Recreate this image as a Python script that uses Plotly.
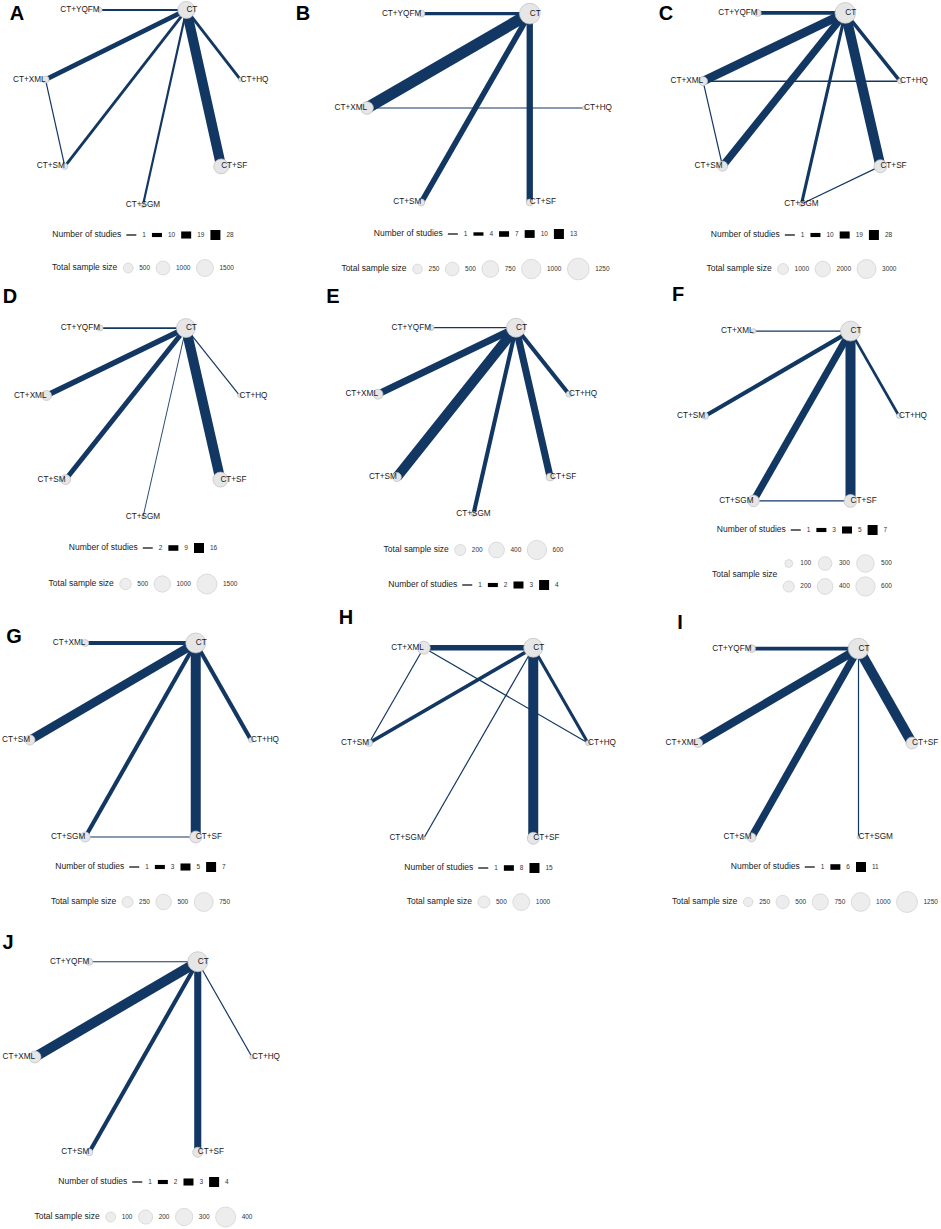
import math
import numpy as np
import plotly.graph_objects as go

W, H = 941, 1229
FONT = "Liberation Sans, Arial, sans-serif"
EDGE_COLOR = "#133763"
NODE_FILL = "#e6e6e6"
NODE_LINE = "#bdbdbd"

# treatments go round the circle counter-clockwise in this order, CT first
ORDER = ["CT", "CT+YQFM", "CT+XML", "CT+SM", "CT+SGM", "CT+SF", "CT+HQ"]

# ---- A ----
a_nodes = ["CT", "CT+YQFM", "CT+XML", "CT+SM", "CT+SGM", "CT+SF", "CT+HQ"]
a_sample = [1520, 130, 260, 190, 130, 1160, 80]
a_pairs = [("CT", "CT+YQFM"), ("CT", "CT+XML"), ("CT", "CT+SM"), ("CT", "CT+SGM"),
           ("CT", "CT+SF"), ("CT", "CT+HQ"), ("CT+XML", "CT+SM")]
a_studies = [3, 12, 6, 4, 28, 6, 1]
a_study_breaks = [1, 10, 19, 28]
a_size_breaks = [500, 1000, 1500]

# ---- B ----
b_nodes = ["CT", "CT+YQFM", "CT+XML", "CT+SM", "CT+SF", "CT+HQ"]
b_sample = [1140, 130, 430, 130, 120, 30]
b_pairs = [("CT", "CT+YQFM"), ("CT", "CT+XML"), ("CT", "CT+SM"), ("CT", "CT+SF"),
           ("CT+XML", "CT+HQ")]
b_studies = [4, 15, 7, 8, 1]
b_study_breaks = [1, 4, 7, 10, 13]
b_size_breaks = [250, 500, 750, 1000, 1250]

# ---- C ----
c_nodes = ["CT", "CT+YQFM", "CT+XML", "CT+SM", "CT+SGM", "CT+SF", "CT+HQ"]
c_sample = [3560, 410, 670, 830, 210, 1400, 210]
c_pairs = [("CT", "CT+YQFM"), ("CT", "CT+XML"), ("CT", "CT+SM"), ("CT", "CT+SGM"),
           ("CT", "CT+SF"), ("CT", "CT+HQ"), ("CT+XML", "CT+HQ"), ("CT+XML", "CT+SM"),
           ("CT+SGM", "CT+SF")]
c_studies = [9, 24, 20, 7, 28, 8, 2, 1, 1]
c_study_breaks = [1, 10, 19, 28]
c_size_breaks = [1000, 2000, 3000]

# ---- D ----
d_nodes = ["CT", "CT+YQFM", "CT+XML", "CT+SM", "CT+SGM", "CT+SF", "CT+HQ"]
d_sample = [1350, 135, 375, 375, 35, 840, 60]
d_pairs = [("CT", "CT+YQFM"), ("CT", "CT+XML"), ("CT", "CT+SM"), ("CT", "CT+SGM"),
           ("CT", "CT+SF"), ("CT", "CT+HQ")]
d_studies = [3, 9, 8, 1, 16, 2]
d_study_breaks = [2, 9, 16]
d_size_breaks = [500, 1000, 1500]

# ---- E ----
e_nodes = ["CT", "CT+YQFM", "CT+XML", "CT+SM", "CT+SGM", "CT+SF", "CT+HQ"]
e_sample = [580, 58, 160, 130, 40, 100, 58]
e_pairs = [("CT", "CT+YQFM"), ("CT", "CT+XML"), ("CT", "CT+SM"), ("CT", "CT+SGM"),
           ("CT", "CT+SF"), ("CT", "CT+HQ")]
e_studies = [1, 3, 4, 2, 3, 2]
e_study_breaks = [1, 2, 3, 4]
e_size_breaks = [200, 400, 600]

# ---- F ----
f_nodes = ["CT", "CT+XML", "CT+SM", "CT+SGM", "CT+SF", "CT+HQ"]
f_sample = [640, 40, 72, 220, 270, 40]
f_pairs = [("CT", "CT+XML"), ("CT", "CT+SM"), ("CT", "CT+SGM"), ("CT", "CT+SF"),
           ("CT", "CT+HQ"), ("CT+SGM", "CT+SF")]
f_studies = [1, 3, 5, 7, 2, 1]
f_study_breaks = [1, 3, 5, 7]
f_size_breaks = [100, 200, 300, 400, 500, 600]

# ---- G ----
g_nodes = ["CT", "CT+XML", "CT+SM", "CT+SGM", "CT+SF", "CT+HQ"]
g_sample = [830, 100, 210, 210, 300, 52]
g_pairs = [("CT", "CT+XML"), ("CT", "CT+SM"), ("CT", "CT+SGM"), ("CT", "CT+SF"),
           ("CT", "CT+HQ"), ("CT+SGM", "CT+SF")]
g_studies = [3, 6, 3, 7, 3, 1]
g_study_breaks = [1, 3, 5, 7]
g_size_breaks = [250, 500, 750]

# ---- H ----
h_nodes = ["CT", "CT+XML", "CT+SM", "CT+SGM", "CT+SF", "CT+HQ"]
h_sample = [1250, 585, 170, 15, 500, 87]
h_pairs = [("CT", "CT+XML"), ("CT", "CT+SM"), ("CT", "CT+SGM"), ("CT", "CT+SF"),
           ("CT", "CT+HQ"), ("CT+XML", "CT+SM"), ("CT+XML", "CT+HQ")]
h_studies = [8, 5, 1, 15, 4, 1, 1]
h_study_breaks = [1, 8, 15]
h_size_breaks = [500, 1000]

# ---- I ----
i_nodes = ["CT", "CT+YQFM", "CT+XML", "CT+SM", "CT+SGM", "CT+SF"]
i_sample = [1215, 180, 230, 230, 25, 410]
i_pairs = [("CT", "CT+YQFM"), ("CT", "CT+XML"), ("CT", "CT+SM"), ("CT", "CT+SGM"),
           ("CT", "CT+SF")]
i_studies = [4, 9, 8, 1, 11]
i_study_breaks = [1, 6, 11]
i_size_breaks = [250, 500, 750, 1000, 1250]

# ---- J ----
j_nodes = ["CT", "CT+YQFM", "CT+XML", "CT+SM", "CT+SF", "CT+HQ"]
j_sample = [400, 49, 144, 49, 100, 20]
j_pairs = [("CT", "CT+YQFM"), ("CT", "CT+XML"), ("CT", "CT+SM"), ("CT", "CT+SF"),
           ("CT", "CT+HQ")]
j_studies = [1, 4, 2, 3, 1]
j_study_breaks = [1, 2, 3, 4]
j_size_breaks = [100, 200, 300, 400]

# where each panel sits on the page (pixels) and how its legends are stacked
PANELS = [
    dict(letter="A", lxy=(17, 15), cx=143, cy=102.4, rx=100, ry=102.6, dref=17,
         legends=[("studies", 235, 1), ("size", 268, 1)],
         data=(a_nodes, a_sample, a_pairs, a_studies, a_study_breaks, a_size_breaks)),
    dict(letter="B", lxy=(303, 15), cx=475.5, cy=108, rx=108.5, ry=109, dref=21.7,
         legends=[("studies", 234, 1), ("size", 269, 1)],
         data=(b_nodes, b_sample, b_pairs, b_studies, b_study_breaks, b_size_breaks)),
    dict(letter="C", lxy=(666, 15), cx=801.5, cy=103.5, rx=101, ry=100.5, dref=19,
         legends=[("studies", 235, 1), ("size", 269, 1)],
         data=(c_nodes, c_sample, c_pairs, c_studies, c_study_breaks, c_size_breaks)),
    dict(letter="D", lxy=(10, 298), cx=143, cy=417.6, rx=99, ry=99.4, dref=20,
         legends=[("studies", 548, 1), ("size", 584, 1)],
         data=(d_nodes, d_sample, d_pairs, d_studies, d_study_breaks, d_size_breaks)),
    dict(letter="E", lxy=(333, 298), cx=473.5, cy=416, rx=98, ry=98, dref=19.3,
         legends=[("size", 550, 1), ("studies", 585, 1)],
         data=(e_nodes, e_sample, e_pairs, e_studies, e_study_breaks, e_size_breaks)),
    dict(letter="F", lxy=(678, 296), cx=802, cy=416, rx=97, ry=98, dref=19.3,
         legends=[("studies", 530, 1), ("size", 575, 2)],
         data=(f_nodes, f_sample, f_pairs, f_studies, f_study_breaks, f_size_breaks)),
    dict(letter="G", lxy=(14, 638), cx=140.5, cy=740, rx=110.5, ry=112, dref=19,
         legends=[("studies", 867, 1), ("size", 902, 1)],
         data=(g_nodes, g_sample, g_pairs, g_studies, g_study_breaks, g_size_breaks)),
    dict(letter="H", lxy=(346, 619), cx=478.5, cy=743, rx=109.5, ry=110, dref=17,
         legends=[("studies", 868, 1), ("size", 902, 1)],
         data=(h_nodes, h_sample, h_pairs, h_studies, h_study_breaks, h_size_breaks)),
    dict(letter="I", lxy=(680, 624), cx=805, cy=743, rx=107, ry=109, dref=21,
         legends=[("studies", 867, 1), ("size", 902, 1)],
         data=(i_nodes, i_sample, i_pairs, i_studies, i_study_breaks, i_size_breaks)),
    dict(letter="J", lxy=(8, 944), cx=143.5, cy=1057, rx=108.5, ry=110, dref=20,
         legends=[("studies", 1182, 1), ("size", 1217, 1)],
         data=(j_nodes, j_sample, j_pairs, j_studies, j_study_breaks, j_size_breaks)),
]

NODE_FS = 8.2
TITLE_FS = 8.5
LAB_FS = 6.5
LETTER_FS = 20
KEY_MIN = 1.2
KEY_MAX = 10.0

# Arial advance widths (em) for the legend texts, used to centre legends
CHAR_W = {" ": .278, "N": .722, "T": .611, "a": .556, "b": .556, "d": .556, "e": .556,
          "f": .278, "i": .222, "l": .222, "m": .833, "o": .556, "p": .556, "r": .333,
          "s": .5, "t": .278, "u": .556, "z": .5}


def text_w(s, size):
    return sum(CHAR_W.get(ch, 0.556) for ch in s) * size


def node_positions(p, nodes):
    names = sorted(nodes, key=ORDER.index)
    n = len(names)
    pos = {}
    for k, name in enumerate(names):
        ang = np.deg2rad(90 - 180 / n + 360 * k / n)
        pos[name] = (p["cx"] + p["rx"] * np.cos(ang), p["cy"] - p["ry"] * np.sin(ang), np.cos(ang))
    return pos


def edge_width(n, breaks):
    lo, hi = breaks[0], breaks[-1]
    return max(0.9, KEY_MIN + (n - lo) * (KEY_MAX - KEY_MIN) / (hi - lo))


def node_diam(v, p, size_breaks):
    return max(3.0, p["dref"] * math.sqrt(v / size_breaks[-1]))


def row_layout(cx, title, halves, labels, nrow):
    ncol = math.ceil(len(labels) / nrow)
    cols = [[c * nrow + r for r in range(nrow) if c * nrow + r < len(labels)] for c in range(ncol)]
    col_h = [max(max(halves[i], 5) for i in idx) for idx in cols]
    col_lw = [max(text_w(labels[i], LAB_FS) for i in idx) for idx in cols]
    tw = text_w(title, TITLE_FS)
    total = tw + 5 + sum(2 * h + 6 + lw for h, lw in zip(col_h, col_lw)) + 6 * (ncol - 1)
    x = cx - total / 2
    title_x = x
    x += tw + 5
    out = [None] * len(labels)
    for idx, h, lw in zip(cols, col_h, col_lw):
        kc = x + h
        lx = kc + h + 6
        for r, i in enumerate(idx):
            out[i] = (kc, lx, r)
        x = lx + lw + 6
    return title_x, out


fig = go.Figure()
edge_traces, node_traces, text_traces = [], [], []

for p in PANELS:
    nodes, sample, pairs, studies, study_breaks, size_breaks = p["data"]
    pos = node_positions(p, nodes)

    for (t1, t2), n in zip(pairs, studies):
        edge_traces.append(go.Scatter(
            x=[pos[t1][0], pos[t2][0]], y=[pos[t1][1], pos[t2][1]], mode="lines",
            line=dict(color=EDGE_COLOR, width=edge_width(n, study_breaks)),
            hoverinfo="skip"))

    node_traces.append(go.Scatter(
        x=[pos[t][0] for t in nodes], y=[pos[t][1] for t in nodes], mode="markers",
        marker=dict(size=[node_diam(v, p, size_breaks) for v in sample], color=NODE_FILL,
                    line=dict(color=NODE_LINE, width=0.7), opacity=1),
        text=nodes, hoverinfo="text"))

    tpos = []
    for t in nodes:
        c = pos[t][2]
        tpos.append("middle right" if c > 0.2 else ("middle left" if c < -0.2 else "middle center"))
    text_traces.append(go.Scatter(
        x=[pos[t][0] for t in nodes], y=[pos[t][1] for t in nodes], mode="text",
        text=nodes, textposition=tpos,
        textfont=dict(family=FONT, size=NODE_FS, color="#1a1a1a"), hoverinfo="skip"))

    # panel letter
    text_traces.append(go.Scatter(
        x=[p["lxy"][0]], y=[p["lxy"][1]], mode="text", text=["<b>%s</b>" % p["letter"]],
        textposition="middle center", textfont=dict(family=FONT, size=LETTER_FS, color="#000"),
        hoverinfo="skip"))

    # legends
    for kind, ly, nrow in p["legends"]:
        if kind == "studies":
            title = "Number of studies"
            labels = [str(b) for b in study_breaks]
            halves = [5] * len(labels)
        else:
            title = "Total sample size"
            labels = [str(b) for b in size_breaks]
            halves = [node_diam(b, p, size_breaks) / 2 for b in size_breaks]
        title_x, places = row_layout(p["cx"], title, halves, labels, nrow)
        dy = [0.0] if nrow == 1 else [-11.5, 11.5]
        text_traces.append(go.Scatter(
            x=[title_x], y=[ly], mode="text", text=[title], textposition="middle right",
            textfont=dict(family=FONT, size=TITLE_FS, color="#222"), hoverinfo="skip"))
        text_traces.append(go.Scatter(
            x=[pl[1] for pl in places], y=[ly + dy[pl[2]] for pl in places], mode="text",
            text=labels, textposition="middle right",
            textfont=dict(family=FONT, size=LAB_FS, color="#333"), hoverinfo="skip"))
        if kind == "studies":
            for b, pl in zip(study_breaks, places):
                edge_traces.append(go.Scatter(
                    x=[pl[0] - 5, pl[0] + 5], y=[ly, ly], mode="lines",
                    line=dict(color="#000", width=edge_width(b, study_breaks)), hoverinfo="skip"))
        else:
            node_traces.append(go.Scatter(
                x=[pl[0] for pl in places], y=[ly + dy[pl[2]] for pl in places], mode="markers",
                marker=dict(size=[node_diam(b, p, size_breaks) for b in size_breaks],
                            color=NODE_FILL, line=dict(color=NODE_LINE, width=0.7)),
                hoverinfo="skip"))

for tr in edge_traces + node_traces + text_traces:
    tr.cliponaxis = False
    fig.add_trace(tr)

# one axis unit is one screen pixel, origin at the top-left corner
fig.update_layout(
    width=W, height=H, margin=dict(l=0, r=0, t=0, b=0),
    paper_bgcolor="white", plot_bgcolor="white", showlegend=False,
    xaxis=dict(range=[0, W], visible=False, fixedrange=True),
    yaxis=dict(range=[H, 0], visible=False, fixedrange=True),
)

# drop the page's default body margin so the figure starts at the corner
fig.write_html("out.html", config={"displayModeBar": False},
               post_script="document.body.style.margin='0px';")
